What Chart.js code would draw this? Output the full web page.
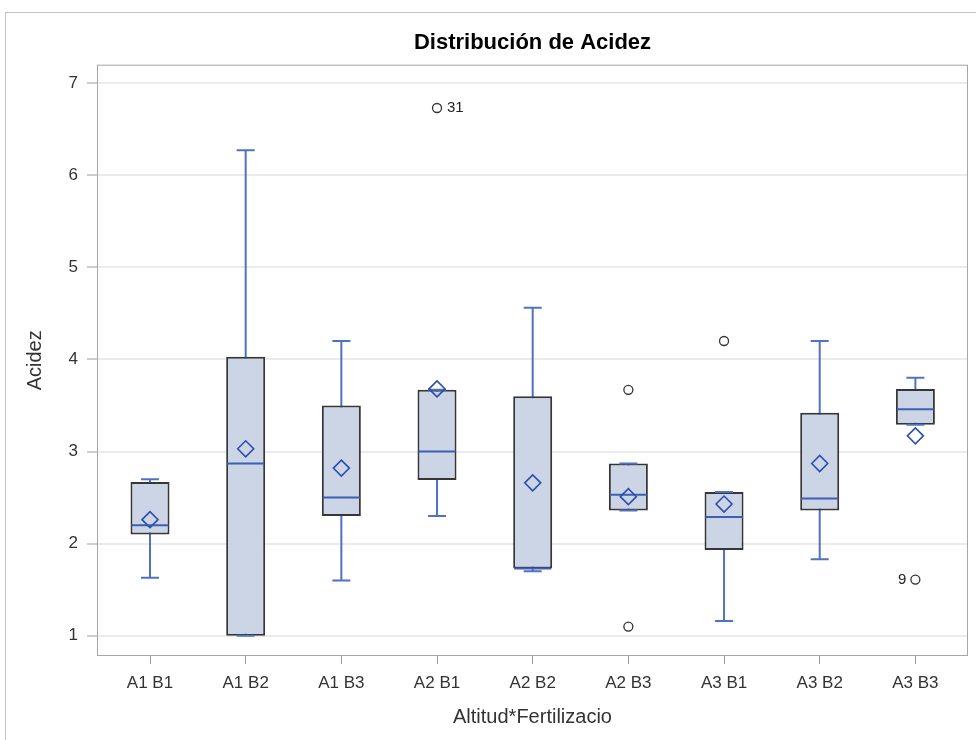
<!DOCTYPE html>
<html>
<head>
<meta charset="utf-8">
<title>Distribución de Acidez</title>
<script src="https://cdn.jsdelivr.net/npm/chart.js@4.4.1/dist/chart.umd.min.js"></script>
<style>
  html, body { margin: 0; padding: 0; background: #ffffff; }
  #wrap { position: relative; width: 976px; height: 740px; overflow: hidden; }
  #frame { position: absolute; left: 5px; top: 12px; width: 1200px; height: 1200px;
           border-left: 1px solid #c4c4c4; border-top: 1px solid #c4c4c4; }
  #c { position: absolute; left: 0; top: 0; }
</style>
</head>
<body>
<div id="wrap">
  <div id="frame"></div>
  <canvas id="c" width="976" height="740"></canvas>
</div>
<script>
// Groups (Altitud x Fertilización) and the five-number summaries of Acidez
const categories  = ['A1 B1', 'A1 B2', 'A1 B3', 'A2 B1', 'A2 B2', 'A2 B3', 'A3 B1', 'A3 B2', 'A3 B3'];
const whiskerLow  = [1.63, 1.00, 1.60, 2.30, 1.70, 2.36, 1.16, 1.83, 3.29];
const q1          = [2.10, 1.00, 2.30, 2.69, 1.73, 2.36, 1.93, 2.36, 3.29];
const medians     = [2.20, 2.87, 2.50, 3.00, 1.73, 2.53, 2.29, 2.49, 3.46];
const q3          = [2.67, 4.03, 3.50, 3.67, 3.60, 2.87, 2.56, 3.42, 3.68];
const whiskerHigh = [2.70, 6.27, 4.20, 3.67, 4.56, 2.87, 2.56, 4.20, 3.80];
const means       = [2.26, 3.03, 2.82, 3.68, 2.66, 2.51, 2.43, 2.87, 3.17];

// Outliers: group index, value, observation label
const outlierGroup  = [3, 5, 5, 6, 8];
const outlierValues = [6.73, 3.67, 1.10, 4.20, 1.61];
const outlierLabels = ['31', '', '', '', '9'];

const yTicks = [1, 2, 3, 4, 5, 6, 7];

const FONT = "'Liberation Sans', Arial, Helvetica, sans-serif";
const WHISKER = '#4f72c4';
const MEDIAN = '#3d5fb5';
const MEAN = '#2c4fae';
const BOX_FILL = '#cbd5e5';
const BOX_EDGE = '#363636';

const stemData   = categories.map((c, i) => ({ x: i, y: [whiskerLow[i], whiskerHigh[i]] }));
const boxData    = categories.map((c, i) => ({ x: i, y: [q1[i], q3[i]] }));
const medianData = categories.map((c, i) => ({ x: i, y: medians[i] }));
const capData    = categories.map((c, i) => ({ x: i, y: whiskerLow[i] }))
                     .concat(categories.map((c, i) => ({ x: i, y: whiskerHigh[i] })));
const meanData   = categories.map((c, i) => ({ x: i, y: means[i] }));
const outlierData = outlierValues.map((v, i) => ({ x: outlierGroup[i], y: v }));

const outlierSet = {
  type: 'scatter', label: 'outliers', data: outlierData,
  pointStyle: 'circle', pointRadius: 4.5,
  pointBorderColor: '#333333', pointBackgroundColor: 'rgba(255,255,255,0)',
  pointBorderWidth: 1.3, order: 1
};

// Frame around the plotting area
const plotFrame = {
  id: 'plotFrame',
  beforeDatasetsDraw(chart) {
    const { ctx, chartArea: a } = chart;
    ctx.save();
    ctx.strokeStyle = '#a6a6a6';
    ctx.lineWidth = 1;
    ctx.strokeRect(a.left + 0.5, a.top + 0.5, a.right - a.left - 1, a.bottom - a.top - 1);
    ctx.restore();
  }
};

// Observation numbers beside the labelled outliers
const outlierText = {
  id: 'outlierText',
  afterDatasetsDraw(chart) {
    const idx = chart.data.datasets.indexOf(outlierSet);
    const meta = chart.getDatasetMeta(idx);
    const { ctx } = chart;
    ctx.save();
    ctx.font = '15px ' + FONT;
    ctx.fillStyle = '#222222';
    ctx.textBaseline = 'middle';
    meta.data.forEach((pt, i) => {
      const txt = outlierLabels[i];
      if (!txt) return;
      const toRight = outlierGroup[i] < categories.length - 1;
      ctx.textAlign = toRight ? 'left' : 'right';
      ctx.fillText(txt, pt.x + (toRight ? 10 : -9), pt.y);
    });
    ctx.restore();
  }
};

new Chart(document.getElementById('c'), {
  type: 'bar',
  data: {
    datasets: [
      { type: 'bar', label: 'whiskers', data: stemData, backgroundColor: WHISKER,
        borderWidth: 0, maxBarThickness: 2, grouped: false, order: 6 },
      { type: 'bar', label: 'boxes', data: boxData, backgroundColor: BOX_FILL,
        borderColor: BOX_EDGE, borderWidth: 2, borderSkipped: false,
        maxBarThickness: 39, grouped: false, order: 5 },
      { type: 'scatter', label: 'medians', data: medianData, pointStyle: 'line',
        pointRadius: 18.5, pointBorderColor: MEDIAN, pointBorderWidth: 2, order: 4 },
      { type: 'scatter', label: 'caps', data: capData, pointStyle: 'line',
        pointRadius: 9, pointBorderColor: WHISKER, pointBorderWidth: 2, order: 3 },
      { type: 'scatter', label: 'means', data: meanData, pointStyle: 'rectRot',
        pointRadius: 8, pointBorderColor: MEAN, pointBackgroundColor: 'rgba(0,0,0,0)',
        pointBorderWidth: 1.6, order: 2 },
      outlierSet
    ]
  },
  options: {
    responsive: false,
    animation: false,
    events: [],
    layout: { autoPadding: false, padding: { left: 0, right: 8, top: 0, bottom: 0 } },
    plugins: {
      legend: { display: false },
      tooltip: { enabled: false },
      title: {
        display: true,
        text: 'Distribución de Acidez',
        fullSize: false,
        color: '#000000',
        font: { family: FONT, size: 22, weight: 'bold', lineHeight: 1.2 },
        padding: { top: 30, bottom: 8.3 }
      }
    },
    scales: {
      x: {
        type: 'linear',
        offset: false,
        min: -0.554,
        max: 8.55,
        afterBuildTicks: s => { s.ticks = categories.map((c, i) => ({ value: i })); },
        afterFit: s => { s.height = 84; s.paddingLeft = 0; s.paddingRight = 0; },
        ticks: {
          callback: (v, i) => categories[i],
          autoSkip: false, maxRotation: 0, minRotation: 0,
          color: '#333333', padding: 9,
          font: { family: FONT, size: 17 }
        },
        grid: { offset: false, drawOnChartArea: false, drawTicks: true, tickLength: 8,
                tickColor: '#9c9c9c', tickWidth: 1 },
        border: { display: false },
        title: { display: true, text: 'Altitud*Fertilizacio', color: '#333333',
                 font: { family: FONT, size: 20 }, padding: { top: 0, bottom: 11 } }
      },
      y: {
        type: 'linear',
        min: 0.78,
        max: 7.2,
        afterBuildTicks: s => { s.ticks = yTicks.map(v => ({ value: v })); },
        afterFit: s => { s.width = 97; },
        ticks: { color: '#333333', padding: 9, font: { family: FONT, size: 17 } },
        grid: { color: '#ebebeb', lineWidth: 2, tickLength: 10,
                tickColor: '#9c9c9c', tickWidth: 1 },
        border: { display: false },
        title: { display: true, text: 'Acidez', color: '#333333',
                 font: { family: FONT, size: 20 }, padding: { top: 23, bottom: 0 } }
      }
    }
  },
  plugins: [plotFrame, outlierText]
});
</script>
</body>
</html>
